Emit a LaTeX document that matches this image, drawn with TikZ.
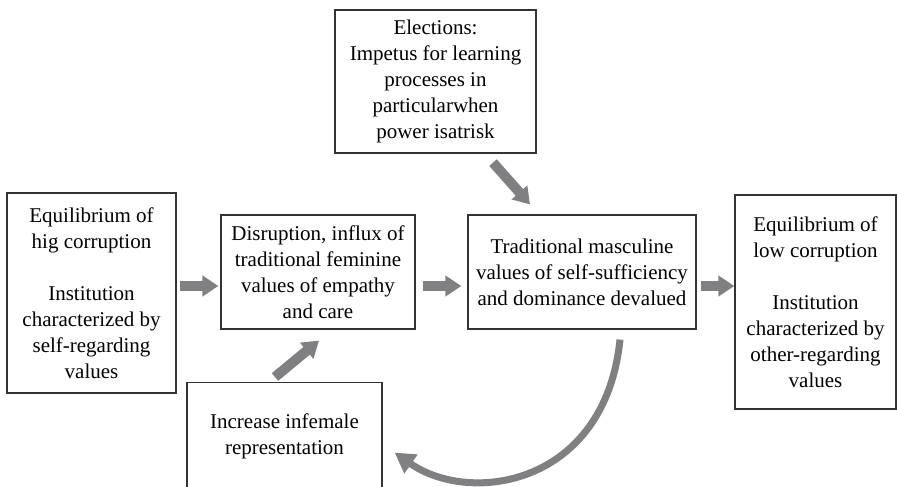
\documentclass[tikz,border=0pt]{standalone}
\usepackage{fontspec}
\setmainfont{Liberation Serif}
\usetikzlibrary{arrows.meta,calc}
\definecolor{arrowgray}{RGB}{128,128,130}
\definecolor{framegray}{RGB}{51,51,51}

\begin{document}
\begin{tikzpicture}
[
x=0.5pt, y=-0.5pt,
box-a/.style={draw=framegray, line width=0.6pt, align=center, inner sep=1pt, font=\fontsize{10.5pt}{13pt}\selectfont},
arrow-a/.style={draw=arrowgray, line width=5pt, -{Triangle[length=8pt, width=10pt]}},
arrow-b/.style={draw=arrowgray, line width=3.5pt, -{Triangle[length=10pt, width=11pt]}}
]

\useasboundingbox (0,0) rectangle (897,486);
\clip (0,0) rectangle (897,486);

\node (eq-high) [box-a, minimum width=84.5pt,  minimum height=100pt]  at (91.5,293)  {Equilibrium of\\hig corruption\\[13pt]Institution\\characterized by\\self-regarding\\values};
\node (dis)     [box-a, minimum width=97pt,    minimum height=57pt]   at (318,272)   {Disruption, influx of\\traditional feminine\\values of empathy\\and care};
\node (masc)    [box-a, minimum width=114pt,   minimum height=57pt]   at (582,272)   {Traditional masculine\\values of self-sufficiency\\and dominance devalued};
\node (eq-low)  [box-a, minimum width=80.5pt,  minimum height=107pt]  at (815.5,302) {Equilibrium of\\low corruption\\[13pt]Institution\\characterized by\\other-regarding\\values};
\node (elect)   [box-a, minimum width=100.5pt, minimum height=71.5pt] at (435.5,81.5) {Elections:\\Impetus for learning\\processes in\\particularwhen\\power isatrisk};
\node (incr)    [box-a, minimum width=97.5pt,  minimum height=54pt, anchor=north] at (284.5,382) {Increase infemale\\representation};

\coordinate (row) at (0,286);
\draw [arrow-a, shorten <=1.5pt, shorten >=1pt] (eq-high.east |- row) -- (dis.west |- row);
\draw [arrow-a, shorten <=3.5pt, shorten >=3pt] (dis.east |- row) -- (masc.west |- row);
\draw [arrow-a, shorten <=2pt] (masc.east |- row) -- (eq-low.west |- row);
\draw [arrow-a] ($(elect.south)+(57.5,9)$) -- ($(masc.north)+(-52,-10)$);
\draw [arrow-a] ($(incr.north)+(-9.5,-5)$) -- ($(dis.south)+(1,11)$);
\draw [arrow-b] ($(masc.south)+(38,10)$) .. controls +(-15,146) and +(76,53) .. ($(incr.east)+(12,16)$);

\end{tikzpicture}
\end{document}
